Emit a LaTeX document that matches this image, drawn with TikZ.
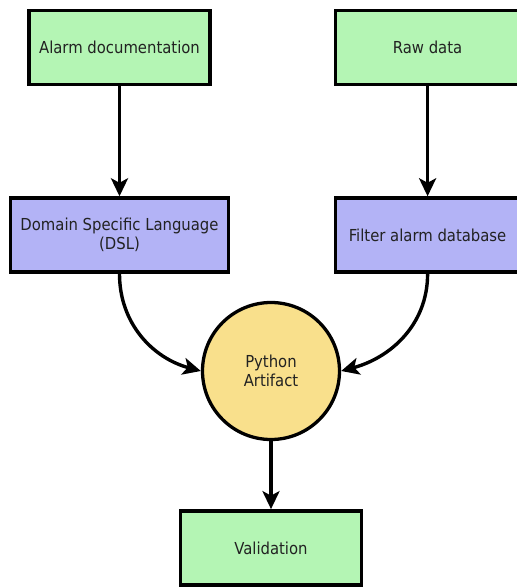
\documentclass[tikz,border=0pt]{standalone}
\usepackage{fontspec}
\setsansfont{DejaVu Sans Condensed}
\usetikzlibrary{arrows.meta,positioning}

\definecolor{boxgreen}{HTML}{B4F5B4}
\definecolor{boxblue}{HTML}{B3B3F6}
\definecolor{boxyellow}{HTML}{F9E08C}
\definecolor{textgray}{HTML}{222222}

\begin{document}
\begin{tikzpicture}[
  x=1pt, y=1pt,
  box/.style={draw, line width=3.6pt, align=center, minimum height=74pt,
              text=textgray, font=\sffamily\fontsize{16.5}{19}\selectfont},
  input/.style={box, fill=boxgreen},
  stage/.style={box, fill=boxblue},
  artifact/.style={draw, circle, line width=3.3pt, fill=boxyellow, align=center,
                   minimum size=137pt, inner sep=0pt, text=textgray,
                   font=\sffamily\fontsize{16.5}{19}\selectfont},
  arrow/.style={-{Stealth[length=18pt, width=17pt, inset=4.5pt]}, line width=3.4pt}
]
\useasboundingbox (0,0) rectangle (517,-587);
\node[input, minimum width=181pt] (doc) at (119.5,-47.5) {Alarm documentation};
\node[input, minimum width=184pt, right=122pt of doc] (raw) {Raw data};
\node[stage, minimum width=218pt, below=110pt of doc] (dsl) {Domain Specific Language\\(DSL)};
\node[stage, minimum width=184pt, below=110pt of raw] (filter) {Filter alarm database};
\node[artifact] (python) at (271,-371) {Python\\Artifact};
\node[input, minimum width=181pt, below=68pt of python] (valid) {Validation};

\draw[arrow] (doc) -- (dsl);
\draw[arrow] (raw) -- (filter);
\draw[arrow] (dsl.south) to[out=-90, in=165] (python.west);
\draw[arrow] (filter.south) to[out=-90, in=15] (python.east);
\draw[arrow] (python) -- (valid);
\end{tikzpicture}
\end{document}
